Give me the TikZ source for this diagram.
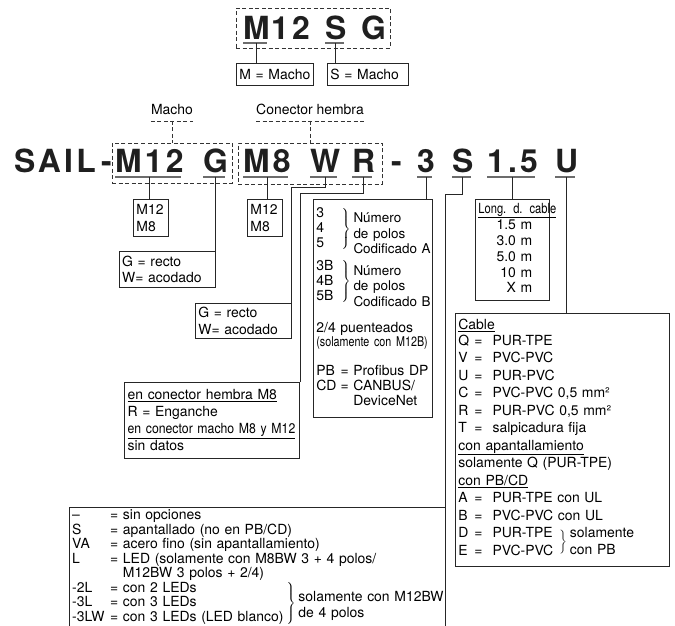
\documentclass[tikz,border=0pt]{standalone}
\usepackage{fontspec}
\setmainfont{TeX Gyre Heros}
\newfontfamily\condfont{TeX Gyre Heros}[FakeStretch=0.8]
\newfontfamily\narrowfont{TeX Gyre Heros}[FakeStretch=0.88]
\newfontfamily\codefont{TeX Gyre Heros}[LetterSpace=10]
\usetikzlibrary{positioning,fit}

% brace spanning some rows of a list
\newcommand\grpbrace[1]{\smash{$\left.\vcenter{\hrule height #1bp width 0pt}\right\}$}}

\begin{document}
\begin{tikzpicture}[
    x=1bp, y=-1bp,
    font=\fontsize{14}{17}\selectfont,
    code/.style={
        font=\codefont\bfseries\fontsize{32}{32}\selectfont,
        text=black!88,
        inner sep=0pt,
        anchor=base west
    },
    infobox/.style={
        draw=black!85,
        line width=0.8bp,
        anchor=north west,
        align=left,
        inner xsep=3bp,
        inner ysep=0pt
    },
    dashbox/.style={
        draw=black!80,
        dash pattern=on 4bp off 2.5bp,
        line width=0.8bp,
        inner sep=0pt
    },
    tag/.style={inner sep=0pt, anchor=base},
    uline/.style={draw=gray!85!black, line width=1.5bp},
    link/.style={draw=black!85, line width=0.8bp},
    dashlink/.style={draw=black!80, line width=0.8bp, dash pattern=on 4bp off 2.5bp}
]
\useasboundingbox (0,0) rectangle (675,626);
\coordinate (pagebottom) at (0,626);

% short code
\node[code] (topm) at (243,40) {M};
\node[code] (topnum) at (271,40) {12};
\node[code] (tops) at (325,40) {S};
\node[code] (topg) at (361,40) {G};
\node[dashbox, fit={(236,8) (390,48)}] (topbox) {};

\node[infobox, text width=71bp, minimum height=22bp] (mmacho) at (236,63) {M = Macho};
\node[infobox, text width=75bp, minimum height=22bp] (smacho) at (327,63) {S = Macho};

\draw[uline] ([yshift=-3bp]topm.base west) -- ([xshift=-3bp,yshift=-3bp]topm.base east);
\draw[uline] ([yshift=-3bp]tops.base west) -- ([xshift=-3bp,yshift=-3bp]tops.base east);
\draw[link] ([yshift=-3bp]topm.base) -- (topm.base |- mmacho.north);
\draw[link] ([yshift=-3bp]tops.base) -- (tops.base |- smacho.north);

% full code
\node[code] (sail) at (14,173) {SAIL};
\node[code] (dasha) at (101,173) {-};
\node[code] (m12) at (115,173) {M12};
\node[code] (g) at (203,173) {G};
\node[code] (m8) at (243,173) {M8};
\node[code] (w) at (310,173) {W};
\node[code] (r) at (352,173) {R};
\node[code] (dashb) at (391,173) {-};
\node[code] (three) at (417,173) {3};
\node[code] (s) at (452,173) {S};
\node[code] (len) at (487,173) {1.5};
\node[code] (u) at (555,173) {U};

\node[dashbox, fit={(112,143) (232,183)}] (malebox) {};
\node[dashbox, fit={(238,143) (382,184)}] (femalebox) {};

\node[tag] (maletag) at (172,115) {Macho};
\node[tag] (femaletag) at (310,115) {Conector hembra};
\draw[dashlink] ([yshift=-6bp]maletag.base west) -- ([yshift=-6bp]maletag.base east);
\draw[dashlink] ([yshift=-6bp]maletag.base) -- (malebox.north);
\draw[dashlink] ([yshift=-6bp]femaletag.base west) -- ([yshift=-6bp]femaletag.base east);
\draw[dashlink] ([yshift=-6bp]femaletag.base) -- (femalebox.north);

\draw[uline] ([yshift=-4bp]m12.base west) -- ([xshift=-3bp,yshift=-4bp]m12.base east);
\draw[uline] ([yshift=-4bp]g.base west) -- ([xshift=-3bp,yshift=-4bp]g.base east);
\draw[uline] ([yshift=-4bp]m8.base west) -- ([xshift=-3bp,yshift=-4bp]m8.base east);
\draw[uline] ([yshift=-4bp]w.base west) -- ([xshift=-3bp,yshift=-4bp]w.base east);
\draw[uline] ([yshift=-4bp]r.base west) -- ([xshift=-3bp,yshift=-4bp]r.base east);
\draw[uline] ([yshift=-4bp]three.base west) -- ([xshift=-3bp,yshift=-4bp]three.base east);
\draw[uline] ([yshift=-4bp]s.base west) -- ([xshift=-3bp,yshift=-4bp]s.base east);
\draw[uline] ([yshift=-4bp]len.base west) -- ([xshift=-3bp,yshift=-4bp]len.base east);
\draw[uline] ([yshift=-4bp]u.base west) -- ([xshift=-3bp,yshift=-4bp]u.base east);

% explanation boxes
\node[infobox, text width=29bp, minimum height=37bp] (sizea) at (133,199) {M12\\M8};
\node[infobox, text width=29bp, minimum height=37bp] (sizeb) at (247,199) {M12\\M8};
\node[infobox, anchor=north east, text width=90bp, minimum height=36bp] (gwa) at (g.base |- 0,251) {G = recto\\W= acodado};
\node[infobox, text width=90bp, minimum height=35bp] (gwb) at (195,303) {G = recto\\W= acodado};
\node[infobox, anchor=north east, text width=169bp, minimum height=76bp] (latch) at (300,382) {%
    \underline{en conector hembra M8}\\
    R = Enganche\\
    \underline{\narrowfont en conector macho M8 y M12}\\
    sin datos};

\node[infobox, text width=113bp, minimum height=218bp, font=\fontsize{14}{15}\selectfont] (coding) at (313,199) {%
    \begin{tabular}{@{}l@{\hspace{7bp}}l@{\hspace{3bp}}l@{}}
    3\\
    4 & \grpbrace{40} & \smash{\raisebox{-6bp}{\fontsize{13.5}{15.5}\selectfont\begin{tabular}{@{}l@{}}Número\\de polos\\Codificado A\end{tabular}}}\\
    5\\[8bp]
    3B\\
    4B & \grpbrace{40} & \smash{\raisebox{-6bp}{\fontsize{13.5}{15.5}\selectfont\begin{tabular}{@{}l@{}}Número\\de polos\\Codificado B\end{tabular}}}\\
    5B
    \end{tabular}\\[16bp]
    2/4 puenteados\\
    {\condfont\fontsize{13.5}{15}\selectfont (solamente con M12B)}\\[14bp]
    \begin{tabular}{@{}l@{\hspace{4bp}}l@{}}
    PB & = Profibus DP\\
    CD & = CANBUS/\\
       & \phantom{= }DeviceNet
    \end{tabular}};

\node[infobox, text width=68bp, minimum height=101bp, font=\fontsize{14}{15.8}\selectfont] (length) at (475,199) {%
    \begin{tabular}{@{}r@{\hspace{24bp}}}
    \multicolumn{1}{@{}c@{}}{\underline{\condfont Long. d. cable}}\\[1bp]
    1.5 m\\
    3.0 m\\
    5.0 m\\
    10 m\\
    X m
    \end{tabular}};

\node[infobox, text width=208bp, minimum height=253bp, font=\fontsize{14}{17.6}\selectfont] (cable) at (455,313) {%
    \underline{Cable}\\
    \begin{tabular}{@{}p{16bp}@{}l@{\hspace{10bp}}l@{}}
    Q & = & PUR-TPE\\
    V & = & PVC-PVC\\
    U & = & PUR-PVC\\
    C & = & PVC-PVC 0,5 mm²\\
    R & = & PUR-PVC 0,5 mm²\\
    T & = & salpicadura fija\\
    \multicolumn{3}{@{}l@{}}{\underline{con apantallamiento}}\\
    \multicolumn{3}{@{}l@{}}{solamente Q (PUR-TPE)}\\
    \multicolumn{3}{@{}l@{}}{\underline{con PB/CD}}\\
    A & = & PUR-TPE con UL\\
    B & = & PVC-PVC con UL\\
    D & = & \rlap{PUR-TPE}\hphantom{PVC-PVC}\rlap{\hspace{5bp}\smash{\raisebox{-8bp}{\grpbrace{26}\hspace{3bp}\begin{tabular}{@{}l@{}}solamente\\con PB\end{tabular}}}}\\
    E & = & PVC-PVC
    \end{tabular}};

% options box, open at the lower edge
\node[anchor=north west, text width=370bp, minimum height=121bp, align=left, inner xsep=3bp, inner ysep=0pt, font=\fontsize{14}{14.5}\selectfont] (opts) at (69,507) {%
    \begin{tabular}{@{}p{38bp}@{}l@{}}
    – & = sin opciones\\
    S & = apantallado (no en PB/CD)\\
    VA & = acero fino (sin apantallamiento)\\
    L & = LED (solamente con M8BW 3 + 4 polos/\\
      & \phantom{= }M12BW 3 polos + 2/4)\\
    -2L & = con 2 LEDs\\
    -3L & = con 3 LEDs\rlap{\hphantom{ (LED blanco)}\hspace{2bp}\grpbrace{40}\hspace{3bp}\smash{\raisebox{-3bp}{\fontsize{14}{16}\selectfont\begin{tabular}{@{}l@{}}solamente con M12BW\\de 4 polos\end{tabular}}}}\\
    -3LW & = con 3 LEDs (LED blanco)
    \end{tabular}};
\draw[link] (opts.west |- pagebottom) |- (opts.north east) -- (opts.east |- pagebottom);

% connectors from the code
\draw[link] ([yshift=-4bp]m12.base) -- (m12.base |- sizea.north);
\draw[link] ([yshift=-4bp]g.base) -- (gwa.north east);
\draw[link] ([yshift=-4bp]m8.base) -- (m8.base |- sizeb.north);
\draw[link] ([yshift=-4bp]w.base) -- ++(0,10) -| (gwb.north east);
\draw[link] ([yshift=-4bp]r.base) -- ++(0,16) -| (latch.north east);
\draw[link] ([yshift=-4bp]three.base) -- (three.base |- coding.north);
\draw[link] ([yshift=-4bp]s.base) -- ++(0,17) -| (opts.north east);
\draw[link] ([yshift=-4bp]len.base) -- (len.base |- length.north);
\draw[link] ([yshift=-4bp]u.base) -- (u.base |- cable.north);

\end{tikzpicture}
\end{document}
